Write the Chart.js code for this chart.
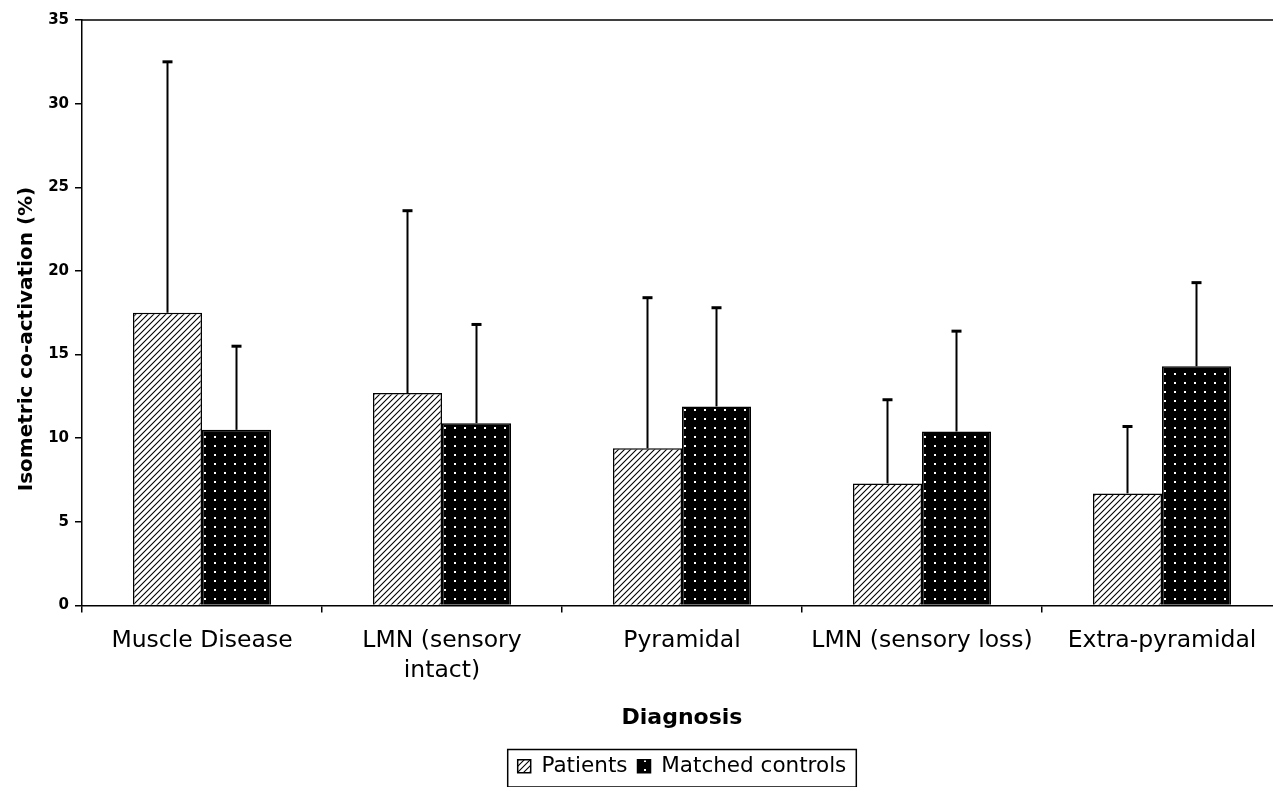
<!DOCTYPE html>
<html>
<head>
<meta charset="utf-8">
<script src="https://cdn.jsdelivr.net/npm/chart.js@4.4.1/dist/chart.umd.min.js"></script>
<style>
  html, body { margin: 0; padding: 0; background: #fff; overflow: hidden; }
  #wrap { position: relative; width: 1290px; height: 787px; }
</style>
</head>
<body>
<div id="wrap"><canvas id="chart"></canvas></div>
<script>
const categories = ['Muscle Disease', ['LMN (sensory', 'intact)'], 'Pyramidal', 'LMN (sensory loss)', 'Extra-pyramidal'];
const patients = [17.5, 12.7, 9.4, 7.3, 6.7];
const patientsSD = [15.0, 10.9, 9.0, 5.0, 4.0];
const controls = [10.5, 10.9, 11.9, 10.4, 14.3];
const controlsSD = [5.0, 5.9, 5.9, 6.0, 5.0];
const yTicks = [0, 5, 10, 15, 20, 25, 30, 35];
const yTitle = 'Isometric co-activation (%)';

// fill patterns
function hatchPattern() {
  const c = document.createElement('canvas');
  c.width = 6; c.height = 6;
  const g = c.getContext('2d');
  g.fillStyle = '#fff';
  g.fillRect(0, 0, 6, 6);
  g.strokeStyle = '#000';
  g.lineWidth = 1.1;
  g.beginPath();
  g.moveTo(0, 6); g.lineTo(6, 0);
  g.moveTo(-1, 1); g.lineTo(1, -1);
  g.moveTo(5, 7); g.lineTo(7, 5);
  g.stroke();
  return g.createPattern(c, 'repeat');
}
function dotPattern() {
  const c = document.createElement('canvas');
  c.width = 10; c.height = 9;
  const g = c.getContext('2d');
  g.fillStyle = '#000';
  g.fillRect(0, 0, 10, 9);
  g.fillStyle = '#fff';
  g.fillRect(4, 4, 2, 2);
  return g.createPattern(c, 'repeat');
}

// upward error bars
const errorBars = {
  id: 'errorBars',
  afterDatasetsDraw(chart) {
    const ctx = chart.ctx;
    const y = chart.scales.y;
    ctx.save();
    ctx.strokeStyle = '#000';
    chart.data.datasets.forEach((ds, di) => {
      chart.getDatasetMeta(di).data.forEach((bar, i) => {
        const top = y.getPixelForValue(ds.data[i] + ds.errors[i]);
        ctx.lineWidth = 2;
        ctx.beginPath();
        ctx.moveTo(bar.x, bar.y);
        ctx.lineTo(bar.x, top);
        ctx.stroke();
        ctx.lineWidth = 3;
        ctx.beginPath();
        ctx.moveTo(bar.x - 5, top);
        ctx.lineTo(bar.x + 5, top);
        ctx.stroke();
      });
    });
    ctx.restore();
  }
};

// plot frame, y title (sits a bit below centre in the original) and legend box
const frame = {
  id: 'frame',
  afterDraw(chart) {
    const ctx = chart.ctx;
    const a = chart.chartArea;
    ctx.save();
    ctx.strokeStyle = '#000';
    ctx.lineWidth = 1.5;
    ctx.beginPath();
    ctx.moveTo(a.left, a.top);
    ctx.lineTo(a.right, a.top);
    ctx.lineTo(a.right, a.bottom);
    ctx.stroke();

    ctx.save();
    ctx.translate(27, 339);
    ctx.rotate(-Math.PI / 2);
    ctx.font = 'bold 20px "DejaVu Sans"';
    ctx.fillStyle = '#000';
    ctx.textAlign = 'center';
    ctx.textBaseline = 'middle';
    ctx.fillText(yTitle, 0, 0);
    ctx.restore();

    const hb = chart.legend.legendHitBoxes;
    if (hb && hb.length) {
      const x0 = Math.min(...hb.map(h => h.left)) - 10;
      const x1 = Math.max(...hb.map(h => h.left + h.width)) + 10;
      const y0 = Math.min(...hb.map(h => h.top)) - 6;
      const y1 = Math.max(...hb.map(h => h.top + h.height)) + 10;
      ctx.lineWidth = 1.5;
      ctx.strokeRect(x0, y0, x1 - x0, y1 - y0);
    }
    ctx.restore();
  }
};

Chart.defaults.font.family = 'DejaVu Sans';
Chart.defaults.color = '#000';

new Chart(document.getElementById('chart'), {
  type: 'bar',
  data: {
    labels: categories,
    datasets: [{
      label: 'Patients',
      data: patients,
      errors: patientsSD,
      backgroundColor: hatchPattern(),
      borderColor: '#000',
      borderWidth: 1.5
    }, {
      label: 'Matched controls',
      data: controls,
      errors: controlsSD,
      backgroundColor: dotPattern(),
      borderColor: '#000',
      borderWidth: 1.5
    }]
  },
  options: {
    responsive: true,
    maintainAspectRatio: false,
    animation: false,
    layout: { padding: { top: 20, right: 8, left: 0, bottom: 0 } },
    datasets: {
      bar: { categoryPercentage: 0.575, barPercentage: 1 }
    },
    plugins: {
      tooltip: { enabled: false },
      legend: {
        position: 'bottom',
        fullSize: false,
        labels: {
          boxWidth: 13,
          boxHeight: 13,
          padding: 10,
          font: { size: 21.5 },
          color: '#000'
        }
      }
    },
    scales: {
      x: {
        grid: { offset: true, drawOnChartArea: false, color: '#000', tickLength: 7, lineWidth: 1.5 },
        border: { color: '#000', width: 1.5 },
        ticks: { font: { size: 23.5, lineHeight: 1.25 }, padding: 14, maxRotation: 0, autoSkip: false },
        title: { display: true, text: 'Diagnosis', font: { size: 22, weight: 'bold' }, padding: { top: 10, bottom: 14 } },
        afterFit: s => { s.height = 140; }
      },
      y: {
        min: 0,
        max: 35,
        afterBuildTicks: s => { s.ticks = yTicks.map(v => ({ value: v })); },
        grid: { drawOnChartArea: false, color: '#000', tickLength: 7, lineWidth: 1.5 },
        border: { color: '#000', width: 1.5 },
        ticks: { font: { size: 15, weight: 'bold' }, padding: 6 },
        afterFit: s => { s.width = 82; }
      }
    }
  },
  plugins: [errorBars, frame]
});
</script>
</body>
</html>
